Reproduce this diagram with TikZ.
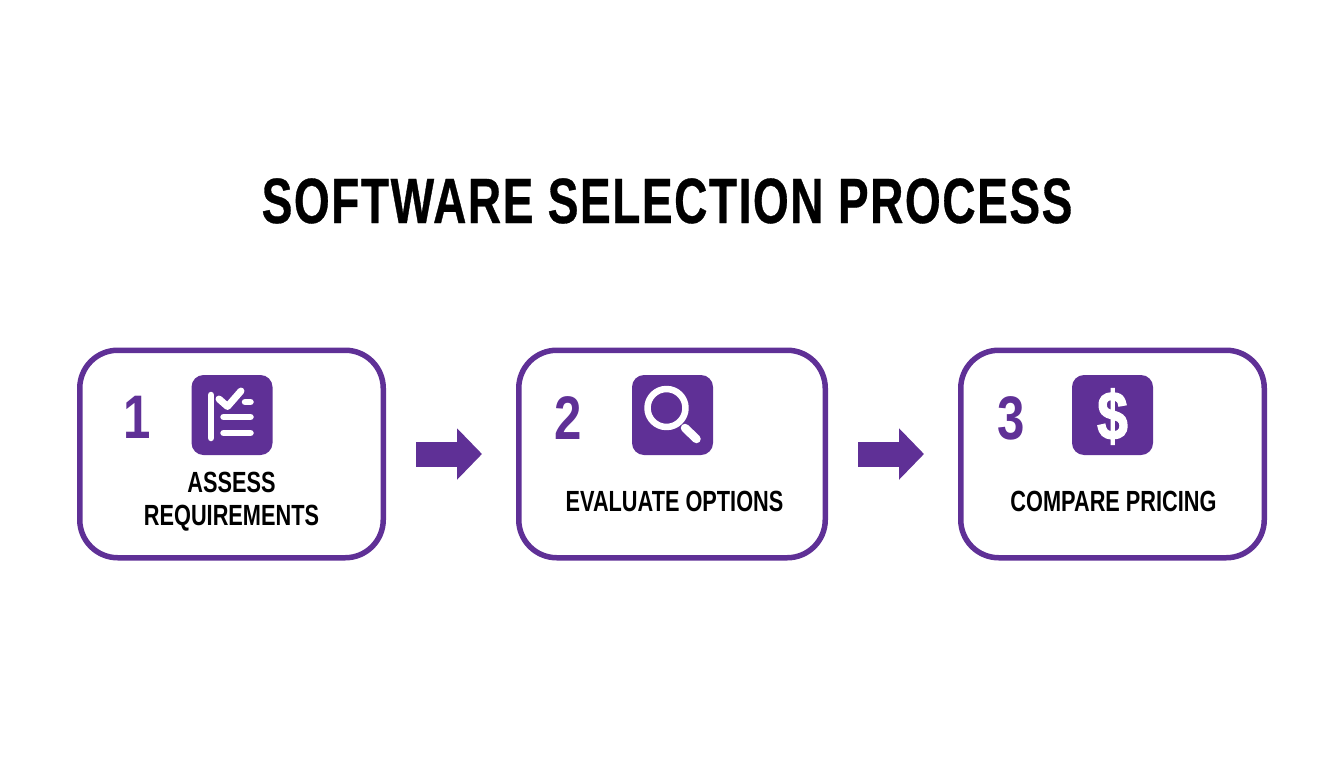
\documentclass[tikz,border=0pt]{standalone}
\usepackage{fontspec}
\usepackage{tikz}
\usetikzlibrary{arrows.meta}
\setmainfont{Liberation Sans}[FakeStretch=0.8]
\newfontfamily\titlefont{Liberation Sans}[FakeStretch=0.72, LetterSpace=2.4, BoldFeatures={FakeBold=0.5}]
\newfontfamily\labelfont{Liberation Sans}[FakeStretch=0.745]
\newfontfamily\dollarfont{Liberation Sans}[FakeStretch=0.8, BoldFeatures={FakeBold=2}]
\definecolor{stepviolet}{RGB}{95,48,150}

\tikzset{
	stepbox/.style={draw=stepviolet, line width=0.11cm, rounded corners=0.76cm, minimum width=6.07cm, minimum height=4.15cm},
	iconbox/.style={fill=stepviolet, rounded corners=0.24cm, minimum width=1.62cm, minimum height=1.6cm},
	stepnum/.style={text=stepviolet, font=\fontsize{35}{35}\selectfont\bfseries, anchor=base},
	steplabel/.style={text=black, font=\labelfont\fontsize{16.6}{18.7}\selectfont\bfseries, align=center, anchor=base},
	stepflow/.style={draw=stepviolet, line width=0.5cm, -{Triangle[length=0.5cm, width=1cm]}, shorten <=0.6cm, shorten >=0.68cm},
	iconline/.style={draw=white, line width=0.13cm, line cap=round, line join=round}
}

\begin{document}
\begin{tikzpicture}
	\useasboundingbox (0, 0) rectangle (26.88, -15.36);
	
	\node[anchor=base, font=\titlefont\fontsize{36.4}{36.4}\selectfont\bfseries] (title) at (13.34, -4.46) {SOFTWARE SELECTION PROCESS};
	
	\node[stepbox] (box1) at (4.63, -9.08) {};
	\node[stepbox, minimum width=6.13cm] (box2) at (13.44, -9.08) {};
	\node[stepbox] (box3) at (22.25, -9.08) {};
	
	\draw[stepflow] (box1) -- (box2);
	\draw[stepflow] (box2) -- (box3);
	
	\node[stepnum] (num1) at (2.74, -8.76) {1};
	\node[stepnum] (num2) at (11.37, -8.78) {2};
	\node[stepnum] (num3) at (20.22, -8.78) {3};
	
	\node[iconbox] (icon1) at (4.64, -8.30) {};
	\node[iconbox] (icon2) at (13.45, -8.30) {};
	\node[iconbox] (icon3) at (22.25, -8.30) {};
	
	\coordinate (C1) at (4.22, -7.90);
	\coordinate (C2) at (4.22, -8.76);
	\coordinate (L1) at (4.90, -8.04);
	\coordinate (L2) at (5.01, -8.04);
	\coordinate (L3) at (4.47, -8.34);
	\coordinate (L4) at (5.01, -8.34);
	\coordinate (L5) at (4.47, -8.66);
	\coordinate (L6) at (5.01, -8.66);
	\coordinate (K1) at (4.38, -7.98);
	\coordinate (K2) at (4.55, -8.13);
	\coordinate (K3) at (4.82, -7.82);
	\draw[iconline] (C1) -- (C2);
	\draw[iconline] (L1) -- (L2);
	\draw[iconline] (L3) -- (L4);
	\draw[iconline] (L5) -- (L6);
	\draw[iconline, line width=0.14cm] (K1) -- (K2) -- (K3);
	
	\coordinate (M) at (13.33, -8.16);
	\coordinate (H1) at (13.70, -8.56);
	\coordinate (H2) at (13.93, -8.78);
	\draw[iconline] (M) circle[radius=0.38];
	\draw[iconline, line width=0.17cm] (H1) -- (H2);
	
	\node[text=white, font=\dollarfont\fontsize{39}{39}\selectfont\bfseries, yshift=-0.03cm] (dollar) at (icon3) {\$};
	
	\node[steplabel] (label1) at (4.63, -10.51) {ASSESS\\REQUIREMENTS};
	\node[steplabel] (label2) at (13.49, -10.22) {EVALUATE OPTIONS};
	\node[steplabel] (label3) at (22.27, -10.22) {COMPARE PRICING};
\end{tikzpicture}
\end{document}
